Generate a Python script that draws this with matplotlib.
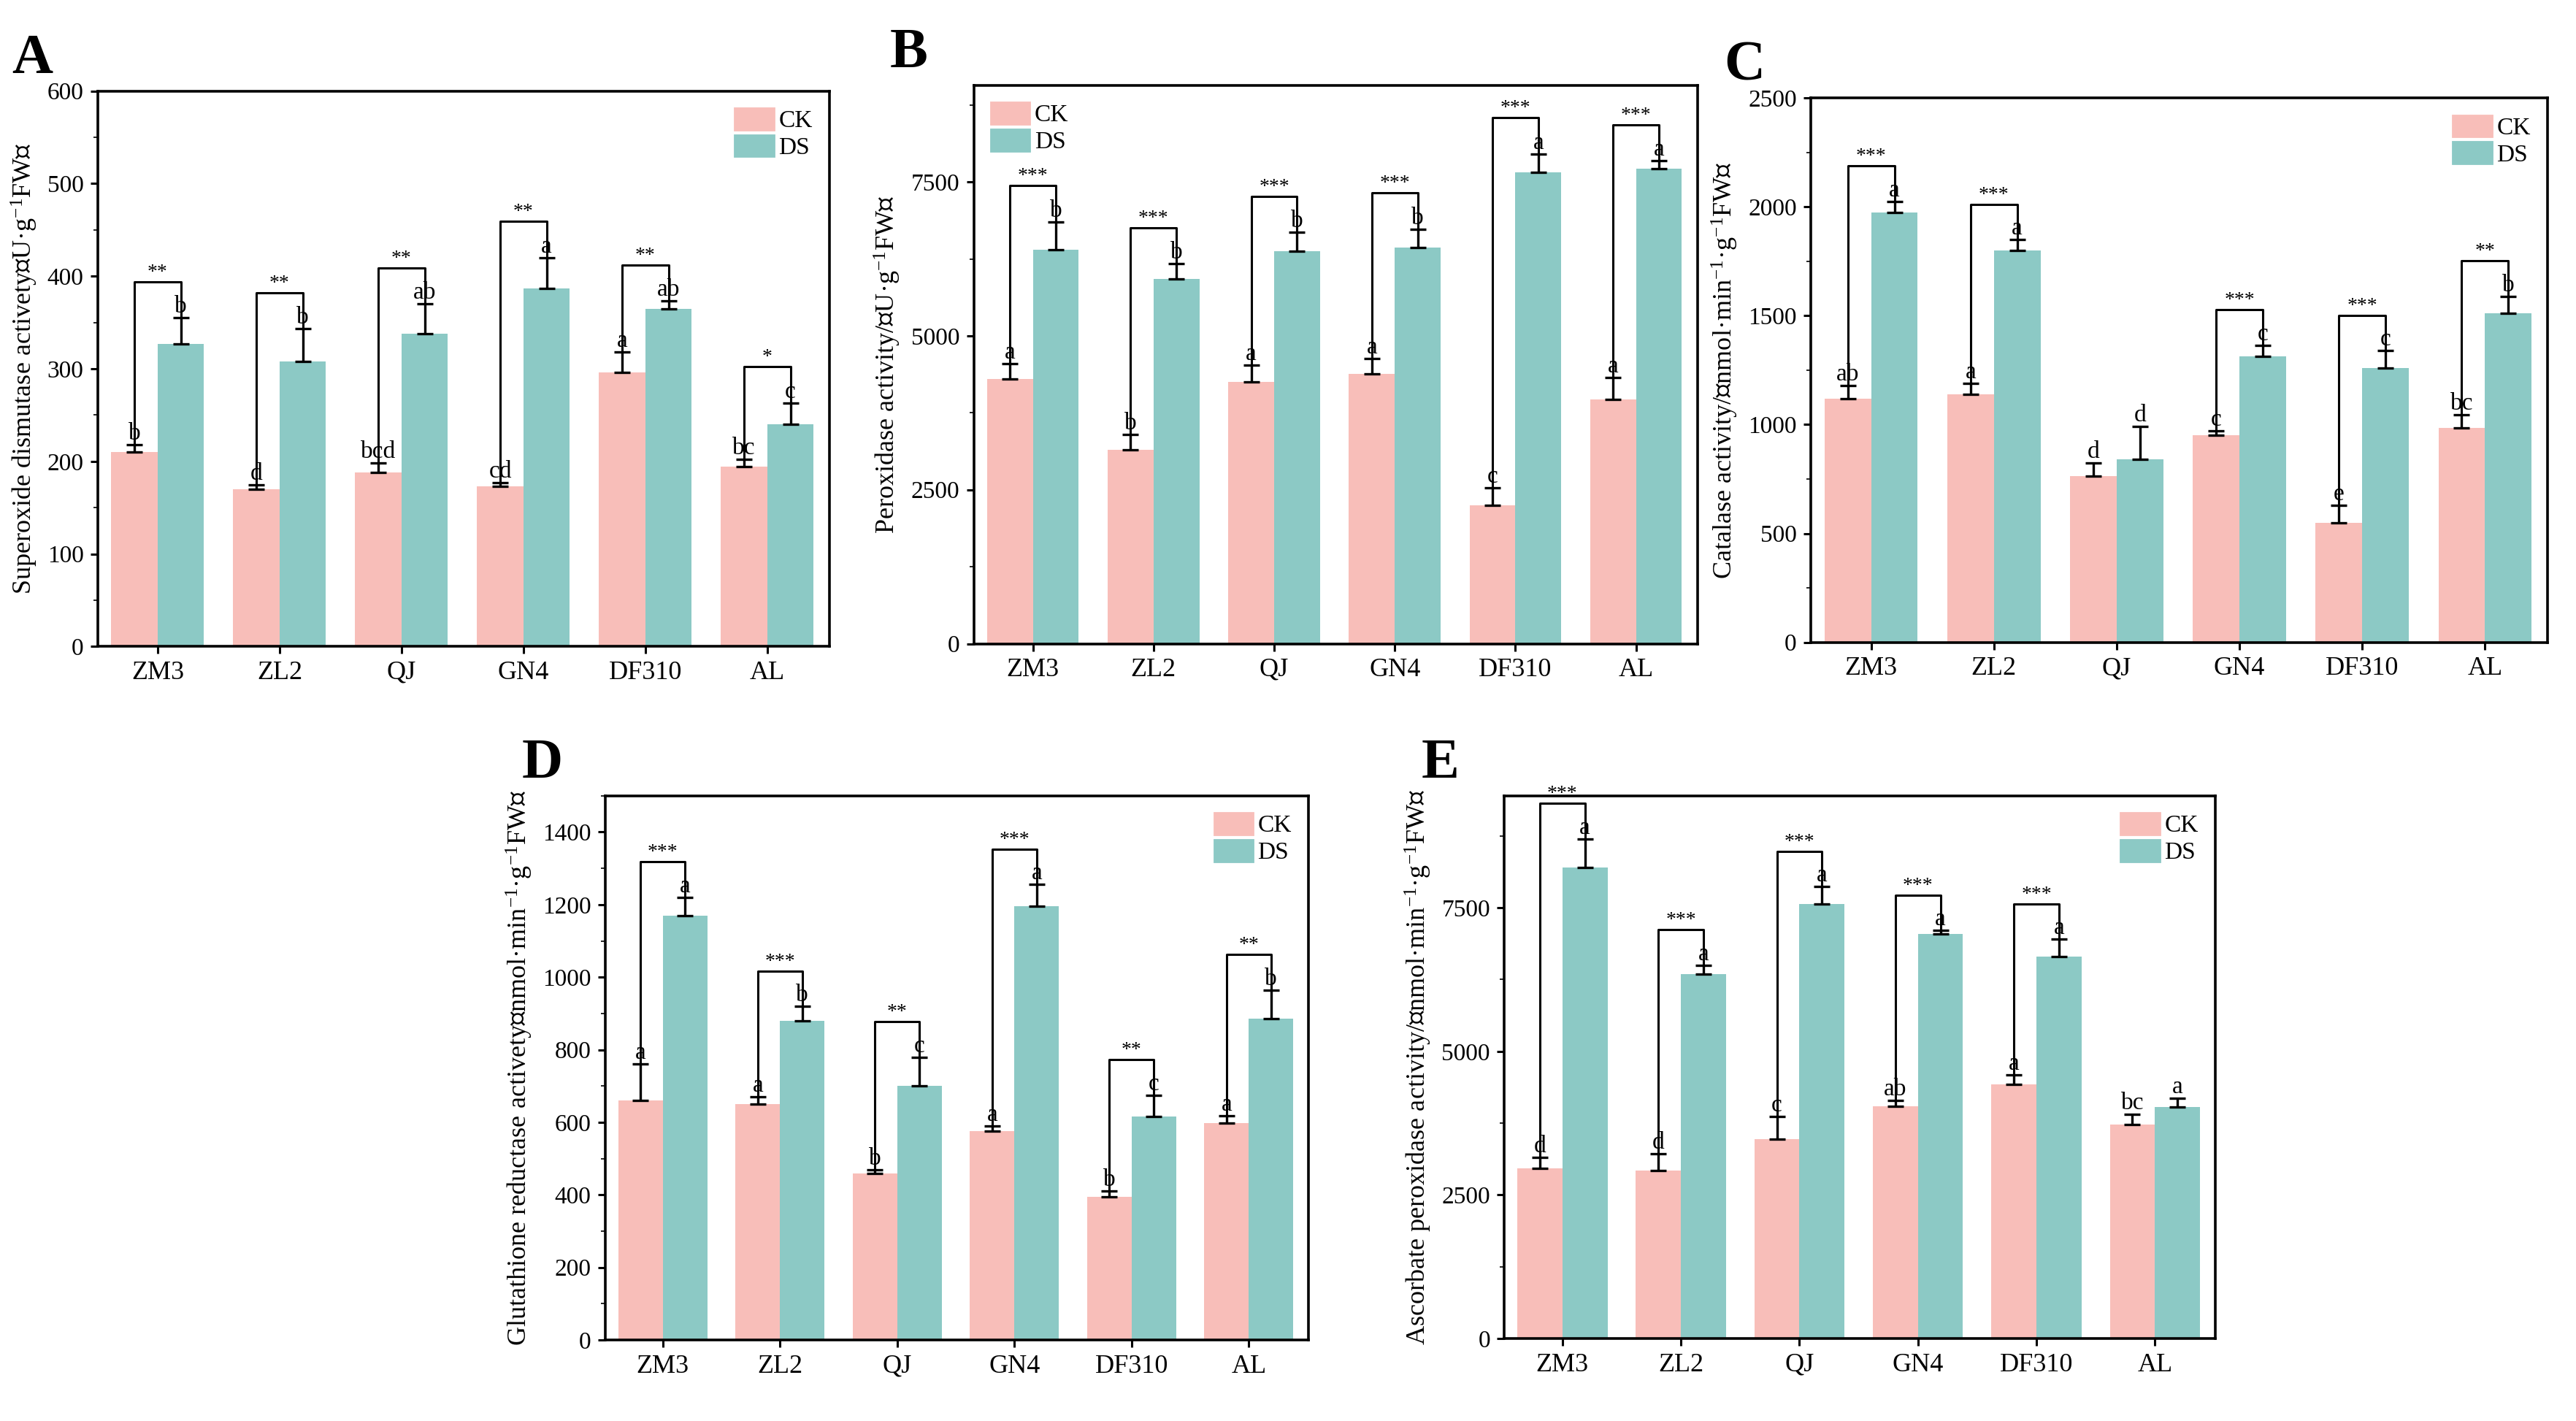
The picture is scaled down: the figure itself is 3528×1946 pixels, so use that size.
import numpy as np
import matplotlib
matplotlib.use("Agg")
import matplotlib.pyplot as plt
from matplotlib.patches import Patch

plt.rcParams['font.family'] = ['Liberation Serif', 'Noto Sans CJK SC']
plt.rcParams['mathtext.fontset'] = 'custom'
plt.rcParams['mathtext.rm'] = 'Liberation Serif'
plt.rcParams['mathtext.it'] = 'Liberation Serif:italic'

cultivars = ['ZM3', 'ZL2', 'QJ', 'GN4', 'DF310', 'AL']
CK_COLOR = '#F8BEB9'
DS_COLOR = '#8CC9C5'

# A: superoxide dismutase
sod_ck = [210, 170, 188, 173, 296, 194]
sod_ck_err = [8, 5, 10, 4, 22, 8]
sod_ds = [327, 308, 338, 387, 365, 240]
sod_ds_err = [28, 35, 32, 33, 8, 23]
sod_ck_let = ['b', 'd', 'bcd', 'cd', 'a', 'bc']
sod_ds_let = ['b', 'b', 'ab', 'a', 'ab', 'c']
sod_sig = ['**', '**', '**', '**', '**', '*']

# B: peroxidase
pod_ck = [4300, 3150, 4250, 4380, 2250, 3970]
pod_ck_err = [250, 250, 280, 250, 280, 350]
pod_ds = [6400, 5920, 6380, 6430, 7650, 7720]
pod_ds_err = [450, 250, 300, 300, 300, 120]
pod_ck_let = ['a', 'b', 'a', 'a', 'c', 'a']
pod_ds_let = ['b', 'b', 'b', 'b', 'a', 'a']
pod_sig = ['***'] * 6

# C: catalase
cat_ck = [1120, 1140, 765, 950, 550, 985]
cat_ck_err = [60, 50, 60, 20, 80, 60]
cat_ds = [1975, 1800, 840, 1315, 1260, 1510]
cat_ds_err = [50, 50, 150, 50, 80, 80]
cat_ck_let = ['ab', 'a', 'd', 'c', 'e', 'bc']
cat_ds_let = ['a', 'a', 'd', 'c', 'c', 'b']
cat_sig = ['***', '***', '', '***', '***', '**']

# D: glutathione reductase
gr_ck = [660, 650, 460, 575, 395, 598]
gr_ck_err = [100, 20, 10, 15, 15, 20]
gr_ds = [1170, 880, 700, 1195, 615, 885]
gr_ds_err = [50, 40, 80, 60, 60, 80]
gr_ck_let = ['a', 'a', 'b', 'a', 'b', 'a']
gr_ds_let = ['a', 'b', 'c', 'a', 'c', 'b']
gr_sig = ['***', '***', '**', '***', '**', '**']

# E: ascorbate peroxidase
apx_ck = [2970, 2920, 3470, 4050, 4430, 3730]
apx_ck_err = [180, 300, 400, 100, 160, 180]
apx_ds = [8200, 6350, 7570, 7050, 6650, 4030]
apx_ds_err = [500, 150, 300, 60, 300, 150]
apx_ck_let = ['d', 'd', 'c', 'ab', 'a', 'bc']
apx_ds_let = ['a'] * 6
apx_sig = ['***', '***', '***', '***', '***', '']


def panel(ax, ck, ck_err, ds, ds_err, ck_let, ds_let, sig, ymax, major, minor,
          ylabel, tag, legend_loc='upper right'):
    x = np.arange(len(cultivars))
    w = 0.38
    ax.bar(x - w / 2, ck, w, color=CK_COLOR)
    ax.bar(x + w / 2, ds, w, color=DS_COLOR)
    ax.errorbar(x - w / 2, ck, yerr=[np.zeros(6), ck_err], fmt='none', ecolor='black',
                elinewidth=1.2, capsize=4, capthick=1.2)
    ax.errorbar(x + w / 2, ds, yerr=[np.zeros(6), ds_err], fmt='none', ecolor='black',
                elinewidth=1.2, capsize=4, capthick=1.2)
    for i in range(len(x)):
        top_ck = ck[i] + ck_err[i]
        top_ds = ds[i] + ds_err[i]
        ax.text(x[i] - w / 2, top_ck, ck_let[i], ha='center', va='bottom', fontsize=12)
        ax.text(x[i] + w / 2, top_ds, ds_let[i], ha='center', va='bottom', fontsize=12)
        if sig[i]:
            yb = max(top_ck, top_ds) + 0.065 * ymax
            ax.plot([x[i] - w / 2, x[i] - w / 2, x[i] + w / 2, x[i] + w / 2],
                    [top_ck, yb, yb, top_ds], color='black', lw=1.1)
            ax.text(x[i], yb, sig[i], ha='center', va='bottom', fontsize=10)
    ax.set_xlim(-0.49, 5.51)
    ax.set_ylim(0, ymax)
    ax.set_yticks(np.arange(0, ymax + 1, major))
    ax.set_yticks(np.arange(0, ymax + 1, minor), minor=True)
    ax.set_xticks(x)
    ax.set_xticklabels(cultivars)
    ax.tick_params(labelsize=12, width=1.1)
    ax.tick_params(axis='x', labelsize=13)
    for s in ax.spines.values():
        s.set_linewidth(1.3)
    ax.set_ylabel(ylabel, fontsize=13)
    ax.text(-0.09, 1.01, tag, transform=ax.transAxes, fontsize=28, fontweight='bold',
            ha='center', va='bottom')
    handles = [Patch(color=CK_COLOR), Patch(color=DS_COLOR)]
    ax.legend(handles, ['CK', 'DS'], loc=legend_loc, frameon=False, fontsize=12,
              handlelength=1.6, handleheight=1.0, handletextpad=0.2, labelspacing=0.1,
              borderaxespad=0.3)


fig = plt.figure(figsize=(17.64, 9.73), dpi=200)
axA = fig.add_axes([0.038, 0.545, 0.284, 0.391])
axB = fig.add_axes([0.378, 0.547, 0.281, 0.393])
axC = fig.add_axes([0.703, 0.548, 0.286, 0.383])
axD = fig.add_axes([0.235, 0.057, 0.273, 0.383])
axE = fig.add_axes([0.584, 0.058, 0.276, 0.382])

panel(axA, sod_ck, sod_ck_err, sod_ds, sod_ds_err, sod_ck_let, sod_ds_let, sod_sig,
      600, 100, 50, 'Superoxide dismutase activety（U·g$^{-1}$FW）', 'A')
panel(axB, pod_ck, pod_ck_err, pod_ds, pod_ds_err, pod_ck_let, pod_ds_let, pod_sig,
      9070, 2500, 1250, 'Peroxidase activity/（U·g$^{-1}$FW）', 'B', legend_loc='upper left')
panel(axC, cat_ck, cat_ck_err, cat_ds, cat_ds_err, cat_ck_let, cat_ds_let, cat_sig,
      2500, 500, 250, 'Catalase activity/（nmol·min$^{-1}$·g$^{-1}$FW）', 'C')
panel(axD, gr_ck, gr_ck_err, gr_ds, gr_ds_err, gr_ck_let, gr_ds_let, gr_sig,
      1500, 200, 100, 'Glutathione reductase activety（nmol·min$^{-1}$·g$^{-1}$FW）', 'D')
panel(axE, apx_ck, apx_ck_err, apx_ds, apx_ds_err, apx_ck_let, apx_ds_let, apx_sig,
      9450, 2500, 1250, 'Ascorbate peroxidase activity/（nmol·min$^{-1}$·g$^{-1}$FW）', 'E')

fig.savefig('out.png', dpi=200)
